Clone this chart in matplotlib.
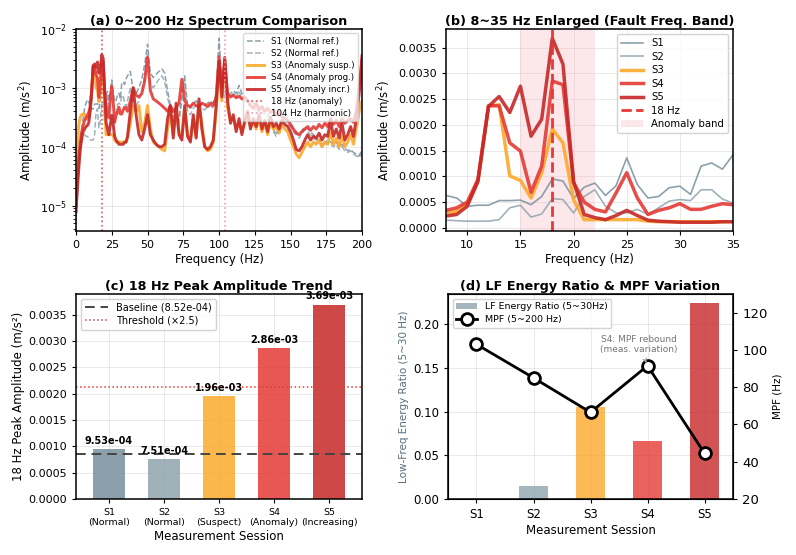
import numpy as np
import matplotlib
matplotlib.use("Agg")
import matplotlib.pyplot as plt
from matplotlib.patches import Patch
from matplotlib.lines import Line2D

# ---------------- data ----------------
freq_low = np.arange(0, 36)          # 1 Hz grid 0..35
freq_high = np.arange(36, 201, 2)    # 2 Hz grid 36..200
freq = np.concatenate([freq_low, freq_high])

# amplitudes in units of 1e-4 m/s^2
s1_low = [0.06, 0.2, 0.6, 1.2, 2.0, 3.0, 4.5, 5.5, 6.3, 5.8,
          4.2, 4.4, 4.4, 5.3, 5.3, 5.4, 4.5, 6.1, 9.5, 9.1,
          5.7, 7.9, 8.7, 6.3, 8.2, 13.6, 8.4, 5.8, 6.1, 7.8,
          8.1, 6.5, 12.0, 12.6, 11.4, 14.2]
s1_high = [16, 19, 9, 8, 10, 14, 25, 55, 18, 15,
           17, 19, 21, 18, 9, 5, 3.5, 2.5, 3.0, 8,
           16, 5, 4.5, 5.5, 6, 5, 5.5, 5, 5.5, 6,
           5.5, 8, 70, 12, 9, 7, 8, 9, 8, 11,
           8, 7, 6.5, 6, 5.5, 5, 4.5, 5, 4, 3.5,
           3, 2, 1.6, 2.2, 3, 3.5, 2.8, 2.5, 2.0, 1.8,
           1.6, 1.9, 2.2, 2.0, 1.8, 1.6, 1.4, 1.3, 1.1, 1.2,
           1.3, 1.2, 1.1, 1.2, 1.0, 1.1, 0.95, 0.85, 0.9, 0.8,
           0.75, 0.7, 0.9]

s2_low = [0.05, 0.15, 0.5, 0.9, 1.2, 1.5, 1.6, 1.5, 1.5, 1.4,
          1.3, 1.3, 1.3, 1.6, 3.9, 4.4, 2.1, 2.7, 5.7, 5.5,
          2.9, 6.1, 7.4, 4.2, 2.9, 2.9, 3.6, 2.6, 3.9, 5.2,
          5.5, 5.3, 7.4, 7.4, 5.6, 4.8]
s2_high = [6, 10, 6, 5, 6, 9, 15, 40, 12, 10,
           12, 14, 16, 13, 7, 4, 3, 2.2, 2.5, 6,
           12, 4, 3.5, 4.5, 5, 4, 4.5, 4.2, 4.8, 5,
           4.5, 6, 50, 9, 7, 6, 7, 8, 7, 9,
           6.5, 6, 5.5, 5, 4.5, 4.2, 4, 4.2, 3.5, 3,
           2.5, 1.8, 1.5, 2, 2.6, 3, 2.4, 2.2, 1.8, 1.6,
           1.4, 1.7, 2.0, 1.8, 1.6, 1.4, 1.3, 1.2, 1.0, 1.1,
           1.2, 1.1, 1.0, 1.1, 0.9, 1.0, 0.85, 0.8, 0.85, 0.75,
           0.7, 0.65, 0.8]

s3_low = [0.5, 1.2, 2.4, 3.2, 3.5, 3.6, 3.6, 3.2, 2.9, 3.2,
          4.7, 9.0, 23.7, 23.9, 10.1, 9.2, 5.8, 10.7, 19.2, 16.5,
          5.5, 1.6, 1.6, 1.6, 1.6, 1.6, 1.6, 1.3, 1.2, 1.2,
          1.2, 1.2, 1.2, 1.2, 1.2, 1.2]
s3_high = [1.4, 2.5, 5.0, 4.0, 5.0, 1.8, 2.5, 5.0, 2.0, 1.2,
           1.1, 1.0, 0.9, 0.85, 2.0, 4.0, 1.6, 4.5, 1.8, 1.4,
           4.5, 1.6, 1.3, 3.0, 1.5, 5.0, 2.5, 1.0, 0.85, 0.9,
           1.2, 4.0, 22.0, 6.0, 30.0, 4.5, 2.8, 3.0, 2.0, 2.5,
           1.8, 2.5, 3.5, 2.2, 2.6, 2.0, 3.0, 1.8, 2.5, 1.6,
           2.8, 2.0, 2.2, 1.7, 2.4, 2.0, 1.8, 1.3, 1.0, 0.75,
           0.65, 0.8, 1.0, 1.2, 1.0, 1.2, 1.1, 1.3, 1.0, 1.2,
           1.1, 1.8, 1.1, 1.4, 1.0, 1.6, 1.0, 1.2, 1.6, 1.1,
           2.0, 4.0, 6.0]

s4_low = [0.1, 0.3, 0.7, 1.2, 1.8, 2.3, 2.8, 3.1, 3.4, 3.9,
          5.0, 9.4, 23.7, 23.7, 16.5, 14.9, 6.9, 12.0, 28.5, 27.8,
          8.8, 5.0, 3.6, 3.1, 6.8, 10.7, 5.8, 2.6, 3.4, 3.9,
          4.7, 3.6, 3.6, 4.2, 4.7, 4.5]
s4_high = [4.0, 6.0, 10.0, 7.5, 7.0, 8.0, 13.0, 33.0, 9.0, 6.5,
           6.0, 5.5, 5.0, 4.5, 4.0, 5.0, 4.0, 4.5, 5.5, 14.0,
           6.0, 5.0, 4.8, 5.5, 5.0, 4.8, 5.5, 5.2, 4.8, 5.5,
           5.0, 7.0, 34.0, 10.0, 28.0, 8.0, 7.0, 7.5, 6.8, 7.2,
           6.5, 7.0, 6.0, 5.0, 4.5, 5.5, 4.2, 4.8, 4.0, 4.5,
           3.8, 4.2, 3.5, 4.0, 3.2, 3.0, 2.8, 2.4, 2.0, 1.7,
           1.6, 1.8, 2.0, 2.2, 1.9, 2.2, 2.0, 2.4, 2.1, 2.5,
           2.2, 3.0, 2.4, 2.8, 2.2, 3.0, 2.5, 2.8, 3.0, 2.6,
           4.0, 10.0, 30.0]

s5_low = [0.08, 0.2, 0.45, 0.9, 1.4, 1.8, 2.0, 2.2, 2.3, 2.6,
          4.2, 9.0, 23.6, 25.5, 22.4, 27.5, 17.8, 21.1, 36.8, 31.8,
          9.0, 2.6, 2.0, 1.6, 2.4, 3.4, 2.4, 1.5, 1.3, 1.2,
          1.1, 1.1, 1.1, 1.1, 1.2, 1.2]
s5_high = [1.5, 4.0, 10.0, 3.5, 1.6, 1.3, 2.0, 3.5, 1.6, 1.3,
           1.1, 1.0, 1.0, 1.1, 3.0, 5.0, 1.4, 5.5, 1.6, 1.3,
           5.0, 1.5, 1.2, 3.5, 1.4, 6.5, 2.0, 1.0, 0.9, 1.0,
           1.3, 5.0, 28.0, 7.0, 33.0, 6.0, 2.5, 3.5, 1.8, 3.0,
           1.6, 2.8, 4.0, 2.0, 3.0, 2.2, 3.5, 2.0, 2.8, 1.8,
           3.2, 2.2, 2.5, 2.0, 2.8, 2.4, 2.2, 1.8, 1.3, 0.9,
           0.85, 1.0, 1.3, 1.6, 1.3, 1.5, 1.4, 1.7, 1.3, 1.6,
           1.5, 2.8, 1.5, 2.0, 1.4, 2.5, 1.3, 1.6, 2.2, 1.5,
           3.0, 8.0, 35.0]

spectra = {
    "S1": np.array(s1_low + s1_high) * 1e-4,
    "S2": np.array(s2_low + s2_high) * 1e-4,
    "S3": np.array(s3_low + s3_high) * 1e-4,
    "S4": np.array(s4_low + s4_high) * 1e-4,
    "S5": np.array(s5_low + s5_high) * 1e-4,
}

sessions = ["S1", "S2", "S3", "S4", "S5"]
session_states = ["Normal", "Normal", "Suspect", "Anomaly", "Increasing"]
legend_a = ["S1 (Normal ref.)", "S2 (Normal ref.)", "S3 (Anomaly susp.)",
            "S4 (Anomaly prog.)", "S5 (Anomaly incr.)"]
peak18 = [9.53e-4, 7.51e-4, 1.96e-3, 2.86e-3, 3.69e-3]
lf_ratio = [0.0, 0.015, 0.105, 0.066, 0.224]
mpf = [103.0, 85.0, 66.5, 91.5, 44.5]

colors = ["#78909C", "#90A4AE", "#FBA92C", "#E53935", "#C62828"]

# ---------------- figure ----------------
plt.rcParams["font.family"] = ["DejaVu Sans"]
fig = plt.figure(figsize=(7.96, 5.55), dpi=100)
ax_a = fig.add_axes([0.0955, 0.5838, 0.3593, 0.3639])
ax_b = fig.add_axes([0.5603, 0.5838, 0.3606, 0.3639])
ax_c = fig.add_axes([0.0955, 0.1009, 0.3593, 0.3694])
ax_d = fig.add_axes([0.5628, 0.1009, 0.3581, 0.3694])

title_kw = dict(fontsize=9.2, fontweight="bold", pad=3)
for ax in (ax_a, ax_b, ax_c, ax_d):
    ax.grid(True, color="#cccccc", alpha=0.5, lw=0.6)
    ax.set_axisbelow(True)
    for sp in ax.spines.values():
        sp.set_linewidth(1.1)
    ax.tick_params(labelsize=8, length=3)

# (a)
for i, s in enumerate(sessions):
    if i < 2:
        ax_a.plot(freq, spectra[s], color=colors[i], lw=1.1, ls="--",
                  alpha=0.85, label=legend_a[i])
    else:
        ax_a.plot(freq, spectra[s], color=colors[i], lw=2.1, alpha=0.9,
                  label=legend_a[i])
ax_a.axvline(18, color="#d32f2f", ls=":", lw=1.2, alpha=0.8, label="18 Hz (anomaly)")
ax_a.axvline(104, color="#f48fb1", ls=":", lw=1.2, alpha=0.9, label="104 Hz (harmonic)")
ax_a.set_yscale("log")
ax_a.set_xlim(0, 200)
ax_a.set_ylim(3.7e-6, 1e-2)
ax_a.set_xticks(np.arange(0, 201, 25))
ax_a.set_xlabel("Frequency (Hz)", fontsize=8.5, labelpad=2)
ax_a.set_ylabel("Amplitude (m/s$^2$)", fontsize=8.5, labelpad=2)
ax_a.set_title("(a) 0~200 Hz Spectrum Comparison", **title_kw)
ax_a.legend(loc="upper right", fontsize=6.2, framealpha=0.75,
            borderpad=0.4, labelspacing=0.35, handlelength=2.0)

# (b)
mask = (freq >= 7) & (freq <= 36)
for i, s in enumerate(sessions):
    lw = 1.2 if i < 2 else 2.5
    ax_b.plot(freq[mask], spectra[s][mask], color=colors[i], lw=lw,
              alpha=0.85 if i < 2 else 0.9, label=s)
ax_b.axvline(18, color="#e53935", ls="--", lw=2.0, label="18 Hz")
ax_b.axvspan(15, 22, color="#f8bbc4", alpha=0.35, lw=0, label="Anomaly band")
ax_b.set_xlim(8, 35)
ax_b.set_ylim(-0.00006, 0.00386)
ax_b.set_yticks(np.arange(0, 0.0036, 0.0005))
ax_b.yaxis.set_major_formatter(matplotlib.ticker.FormatStrFormatter("%.4f"))
ax_b.set_xlabel("Frequency (Hz)", fontsize=8.5, labelpad=2)
ax_b.set_ylabel("Amplitude (m/s$^2$)", fontsize=8.5, labelpad=2)
ax_b.set_title("(b) 8~35 Hz Enlarged (Fault Freq. Band)", **title_kw)
ax_b.legend(loc="upper right", fontsize=7.3, framealpha=0.85,
            borderpad=0.4, labelspacing=0.35, handlelength=2.2)

# (c)
x = np.arange(len(sessions))
ax_c.bar(x, peak18, width=0.57, color=colors, alpha=0.85)
baseline = np.mean(peak18[:2])
ax_c.axhline(baseline, color="#444444", ls="--", lw=1.4, dashes=(5, 3),
             label=f"Baseline ({baseline:.2e})")
ax_c.axhline(baseline * 2.5, color="#e53935", ls=":", lw=1.1,
             label="Threshold (\u00d72.5)")
for xi, v in zip(x, peak18):
    ax_c.text(xi, v + 0.00006, f"{v:.2e}", ha="center", va="bottom",
              fontsize=7, fontweight="bold")
ax_c.set_xticks(x)
ax_c.set_xticklabels([f"{s}\n({st})" for s, st in zip(sessions, session_states)],
                     fontsize=6.8)
ax_c.set_xlim(-0.6, 4.6)
ax_c.set_ylim(0, 0.00389)
ax_c.set_yticks(np.arange(0, 0.0036, 0.0005))
ax_c.yaxis.set_major_formatter(matplotlib.ticker.FormatStrFormatter("%.4f"))
ax_c.set_xlabel("Measurement Session", fontsize=8.5, labelpad=2)
ax_c.set_ylabel("18 Hz Peak Amplitude (m/s\u00b2)", fontsize=8.5, labelpad=2)
ax_c.set_title("(c) 18 Hz Peak Amplitude Trend", **title_kw)
ax_c.legend(loc="upper left", fontsize=7, framealpha=0.85,
            borderpad=0.4, labelspacing=0.3, handlelength=2.4)

# (d)
ax_d.bar(x, lf_ratio, width=0.5, color=colors, alpha=0.8,
         label="LF Energy Ratio (5~30Hz)")
ax_d.set_xticks(x)
ax_d.set_xticklabels(sessions, fontsize=8.5)
ax_d.set_xlim(-0.5, 4.5)
ax_d.set_ylim(0, 0.2346)
ax_d.set_yticks([0, 0.05, 0.10, 0.15, 0.20])
ax_d.yaxis.set_major_formatter(matplotlib.ticker.FormatStrFormatter("%.2f"))
ax_d.tick_params(axis="y", labelsize=8.5)
ax_d.set_xlabel("Measurement Session", fontsize=8.5, labelpad=2)
ax_d.set_ylabel("Low-Freq Energy Ratio (5~30 Hz)", fontsize=7.5,
                color="#546E7A", labelpad=3)
ax_d.set_title("(d) LF Energy Ratio & MPF Variation", **title_kw)
ax_d2 = ax_d.twinx()
ax_d2.plot(x, mpf, color="black", lw=2, marker="o", markersize=8.5,
           markerfacecolor="white", markeredgecolor="black",
           markeredgewidth=2, label="MPF (5~200 Hz)")
ax_d2.set_ylim(20, 130)
ax_d2.set_yticks([20, 40, 60, 80, 100, 120])
ax_d2.tick_params(axis="y", labelsize=9.5, length=3)
ax_d2.set_ylabel("MPF (Hz)", fontsize=7.5, labelpad=4)
ax_d2.annotate("S4: MPF rebound\n(meas. variation)", xy=(3, mpf[3]),
               xytext=(2.85, 103), ha="center", va="center", fontsize=6.5,
               color="#757575",
               arrowprops=dict(arrowstyle="->", color="#9e9e9e", lw=0.8))
handles = [Patch(facecolor=colors[1], alpha=0.8, label="LF Energy Ratio (5~30Hz)"),
           Line2D([0], [0], color="black", lw=2, marker="o", markersize=8.5,
                  markerfacecolor="white", markeredgecolor="black",
                  markeredgewidth=2, label="MPF (5~200 Hz)")]
ax_d.legend(handles=handles, loc="upper left", fontsize=6.8, framealpha=0.85,
            borderpad=0.4, labelspacing=0.4, handlelength=2.2)

fig.savefig("out.png", dpi=100)
